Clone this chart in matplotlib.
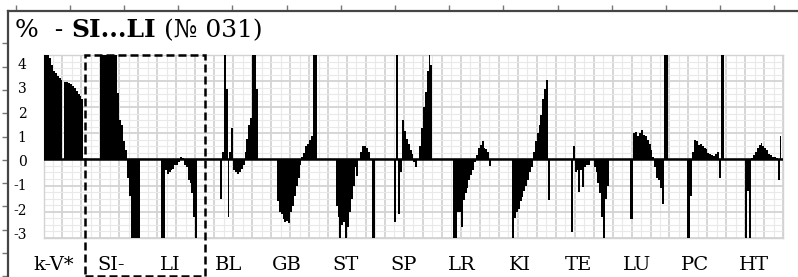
import numpy as np
import matplotlib
matplotlib.use('Agg')  # no display
import matplotlib.pyplot as plt
from matplotlib.patches import Rectangle
from matplotlib.ticker import MultipleLocator

# ----------------------------
# DATA (values in %, 30 bars per group)
# ----------------------------
groups = ["k-V*", "SI-", "LI", "BL", "GB", "ST", "SP", "LR", "KI", "TE", "LU", "PC", "HT"]
y_label_vals = [4, 3, 2, 1, 0, -1, -2, -3]
y_labels = ["4", "3", "2", "1", "0", "-1", "-2", "-3"]

kv = [4.5, 4.5, 4.5, 3.9, 3.6, 3.4, 3.3, 3.2, 3.12, 3.05, 0, 2.98, 2.96, 2.93, 2.88,
      2.8, 2.72, 2.62, 2.52, 2.42, 2.3, 0, 0, 0, 0, 0, 0, 0, 0, 0]
si = [4.5, 4.5, 4.5, 4.5, 4.5, 4.5, 4.5, 4.5, 4.5, 2.55, 1.5, 1.3, 0.7, 0.35, -0.7,
      -1.4, -3.5, -3.5, -3.5, -3.5, -3.5, 0, 0, 0, 0, 0, 0, 0, 0, 0]
li = [0, 0, -3.5, -3.5, -0.4, -0.55, -0.5, -0.4, -0.35, -0.2, -0.2, -0.1, 0.1, 0.05, -0.2,
      -0.3, -0.8, -0.9, -1.3, -2.2, -3.5, 0, 0, 0, 0, 0, 0, 0, 0, 0]
bl = [0, 0, 0, -1.5, 0.3, 4.5, 2.7, -2.2, 0.3, 1.2, -0.4, -0.5, -0.55, -0.5, -0.35,
      -0.2, 0.3, 0.8, 1.3, 1.6, 4.5, 4.5, 2.7, 0, 0, 0, 0, 0, 0, 0]
gb = [0, 0, 0, -1.6, -2.0, -2.1, -2.3, -2.4, -2.35, -2.45, -2.0, -1.8, -1.4, -1.0, -0.7,
      -0.2, 0.1, 0.25, 0.5, 0.6, 0.75, 0.88, 4.5, 4.5, 0, 0, 0, 0, 0, 0]
st = [0, 0, 0, 0, -1.8, -2.2, -3.5, -2.5, -2.4, -3.5, -2.6, -2.0, -1.5, -1.0, -0.3,
      -0.65, 0, 0.3, 0.5, 0.5, 0.45, 0.3, 0, -3.5, -3.5, 0, 0, 0, 0, 0]
sp = [0, 0, 0, 0, 0, -2.4, 4.5, -2.1, -0.5, 1.5, 1.1, 0.8, 0.6, 0.35, 0.2,
      -0.1, -0.3, 0, 0.5, 1.2, 2.0, 2.6, 3.4, 4.5, 3.6, 0, 0, 0, 0, 0]
lr = [0, 0, 0, 0, 0, 0, -3.5, -3.5, -2.0, -2.0, -2.6, -1.55, -1.3, -1.1, -0.8,
      -0.6, -0.4, -0.1, 0.15, 0.45, 0.55, 0.7, 0.45, 0.38, 0.3, -0.27, 0, 0, 0, 0]
ki = [0, 0, 0, 0, 0, 0, 0, -3.5, -2.25, -2.0, -1.9, -1.6, -1.45, -1.2, -1.0,
      -0.8, -0.5, -0.3, 0.3, 0.7, 1.0, 1.3, 1.7, 2.3, 2.7, 3.05, -1.55, 0, 0, 0]
te = [0, 0, 0, 0, 0, 0, 0, 0, -2.8, 0.5, -0.5, -0.4, -1.25, -0.4, -1.05,
      -0.3, -0.2, -0.2, 0, 0, -0.3, -0.5, -0.9, -1.3, -2.2, -3.5, -1.5, -1.0, 0, 0]
lu = [0, 0, 0, 0, 0, 0, 0, 0, 0, -2.3, -2.3, 1.0, 1.05, 0.9, 1.0,
      1.13, 0.95, 0.9, 0.75, 0.6, 0.35, 0.1, -0.3, -0.7, -0.8, -1.1, -1.7, 4.5, 4.5, 0]
pc = [0, 0, 0, 0, 0, 0, 0, 0, 0, -3.5, -3.5, -1.4, 0.3, 0.75, 0.7,
      0.55, 0.6, 0.5, 0.43, 0.4, 0.25, 0.2, 0.15, 0.12, 0.2, 0.3, -0.72, 4.5, 4.5, 0]
ht = [0, 0, 0, 0, 0, 0, 0, 0, 0, 0, -3.5, -1.2, -3.5, 0.05, 0.15,
      0.3, 0.45, 0.55, 0.62, 0.5, 0.45, 0.35, 0.2, 0.15, 0.1, 0.1, 0.05, -0.78, 0.88, 0]

series = [kv, si, li, bl, gb, st, sp, lr, ki, te, lu, pc, ht]
values = np.concatenate(series)
n_bars = len(values)
per_group = len(kv)

# ----------------------------
# LAYOUT (pixel helpers, figure is 798 x 277)
# ----------------------------
W, H = 798, 277
def fx(px): return px / W
def fy(py): return 1 - py / H

serif = ['DejaVu Serif', 'DejaVu Sans']
frame_col = '#454545'
grid_major = '#d3d3d3'
grid_minor = '#e9e9e9'

fig = plt.figure(figsize=(W / 100, H / 100), dpi=100)

# --- outer frame with ruler ticks (left + top) ---
bg = fig.add_axes([fx(8), 0, 1 - fx(8), fy(11)])
bg.set_xlim(8, W)
bg.set_ylim(H, 11)
bg.patch.set_visible(False)
for s in ['right', 'bottom']:
    bg.spines[s].set_visible(False)
for s in ['left', 'top']:
    bg.spines[s].set_color(frame_col)
    bg.spines[s].set_linewidth(1.6)
bg.xaxis.tick_top()
bg.set_xticks(np.arange(15.5, W, 54.2))
bg.set_yticks(np.arange(43.3, H, 23.3))
bg.tick_params(which='both', direction='out', length=4, width=1.0, color='#777777',
               labelleft=False, labeltop=False, labelbottom=False)

# --- main bar plot ---
ax = fig.add_axes([fx(43.5), fy(237.7), (783.3 - 43.5) / W, (237.7 - 55) / H])
ax.bar(np.arange(n_bars), values, width=1.0, color='black', linewidth=0,
       antialiased=False, zorder=3)
ax.axhline(0, color='black', lw=1.8, zorder=4)
ax.set_xlim(-0.5, n_bars - 0.5)
ax.set_ylim(-3, 4)

ax.set_yticks(y_label_vals)
ax.yaxis.set_minor_locator(MultipleLocator(0.25))
ax.set_xticks(np.arange(-0.5, n_bars, per_group / 3))
ax.set_xticks(np.arange(-0.5 + per_group / 6, n_bars, per_group / 3), minor=True)
ax.tick_params(which='both', length=0, labelleft=False, labelbottom=False)
ax.grid(which='major', color=grid_major, lw=1.3, zorder=0)
ax.grid(which='minor', color=grid_minor, lw=0.8, zorder=0)
ax.set_axisbelow(True)
for s in ax.spines.values():
    s.set_color(grid_major)
    s.set_linewidth(1.0)

# --- y labels (text box, own spacing) ---
ly = fig.add_axes([fx(43.5), fy(245.6), 0.0005, (245.6 - 51.6) / H])
ly.set_ylim(-3.5, 4.5)
ly.set_yticks(y_label_vals)
ly.set_yticklabels(y_labels, family=serif, fontsize=10)
ly.tick_params(length=0, pad=12.2)
ly.set_xticks([])
ly.patch.set_visible(False)
for s in ly.spines.values():
    s.set_visible(False)

# --- group labels (text box, own spacing) ---
lx = fig.add_axes([fx(24), fy(255), (783 - 24) / W, 0.0005])
lx.set_xlim(-0.5, len(groups) - 0.5)
lx.set_xticks(np.arange(len(groups)))
lx.set_xticklabels(groups, family=serif, fontsize=14)
lx.tick_params(length=0, pad=0.5)
lx.set_yticks([])
lx.patch.set_visible(False)
for s in lx.spines.values():
    s.set_visible(False)

# --- title in three pieces ---
t1 = fig.text(fx(15), fy(37), "%  - ", family=serif, fontsize=18, va='baseline')
t2 = bg.annotate("SI...LI", xy=(1, 0), xycoords=t1, va='bottom', ha='left',
                 family=serif, fontsize=18, fontweight='bold', annotation_clip=False)
t3 = bg.annotate(" (№ 031)", xy=(1, 0), xycoords=t2, va='bottom', ha='left',
                 family=serif, fontsize=18, annotation_clip=False)

# --- dashed selection box around SI- / LI ---
fig.add_artist(Rectangle((fx(85), fy(276)), fx(205) - fx(85), fy(55) - fy(276),
                         transform=fig.transFigure, fill=False, ec='black',
                         lw=1.8, ls=(0, (3.2, 1.6)), zorder=6))

fig.savefig("out.png", dpi=100, facecolor='white')
